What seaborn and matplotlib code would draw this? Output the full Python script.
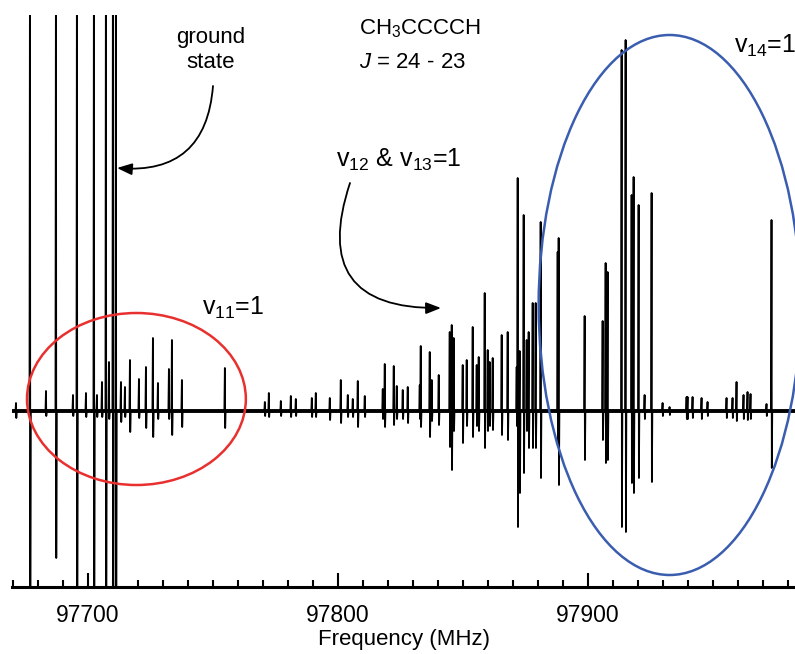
import numpy as np
import pandas as pd
import matplotlib
matplotlib.use("Agg")
import matplotlib.pyplot as plt
from matplotlib.patches import Ellipse
from matplotlib.ticker import MultipleLocator
import seaborn as sns

# ---------------- data ----------------
# line centre frequencies (MHz), upward intensity, downward intensity (arb. units)
ground_freq = [97676.8, 97687.2, 97695.6, 97702.4, 97707.2, 97710.0, 97711.2]
ground_up   = [500, 500, 500, 500, 500, 500, 500]
ground_down = [200, 147, 200, 200, 200, 200, 200]

v11_freq = [97671.2, 97683.2, 97694.0, 97699.2, 97703.6, 97705.6, 97708.4, 97713.2,
            97714.8, 97716.8, 97720.4, 97723.2, 97726.0, 97728.0, 97732.4, 97733.6,
            97737.6, 97754.8]
v11_up   = [8, 20, 16, 18, 16, 29, 49, 29, 24, 51, 32, 44, 73, 28, 42, 71, 31, 43]
v11_down = [7, 5, 5, 6, 6, 6, 8, 11, 6, 21, 7, 17, 26, 8, 8, 24, 16, 17]

v1213_freq = [97770.8, 97772.4, 97777.2, 97781.2, 97783.2, 97789.6, 97791.2, 97796.8,
              97801.2, 97804.0, 97806.0, 97808.0, 97810.8, 97818.0, 97818.8, 97822.4,
              97823.6, 97826.0, 97828.0, 97832.8, 97833.2, 97836.8, 97837.6, 97840.4,
              97844.8, 97845.6, 97846.4, 97850.0, 97851.6, 97854.0, 97855.6, 97856.4,
              97858.8, 97860.0, 97860.8, 97862.0, 97865.6, 97868.0, 97871.6, 97872.0,
              97872.8, 97874.4, 97875.6, 97876.4, 97878.0, 97879.2, 97881.2, 97888.0,
              97888.4]
v1213_up   = [9, 18, 10, 15, 12, 13, 18, 13, 31, 16, 12, 30, 15, 22, 47, 45, 25, 21,
              24, 26, 65, 59, 31, 36, 79, 86, 73, 46, 51, 84, 46, 54, 118, 61, 49, 53,
              76, 79, 44, 233, 60, 196, 71, 79, 108, 108, 189, 159, 173]
v1213_down = [5, 6, 5, 6, 5, 6, 6, 9, 12, 6, 6, 16, 6, 8, 16, 14, 8, 8, 12, 8, 16,
              26, 10, 14, 36, 59, 20, 32, 15, 26, 15, 20, 37, 20, 15, 19, 24, 29, 15,
              116, 82, 62, 20, 37, 37, 37, 67, 30, 74]

v14_freq = [97898.8, 97906.0, 97907.2, 97908.0, 97913.6, 97915.2, 97917.6, 97918.4,
            97920.4, 97922.8, 97925.6, 97930.0, 97932.8, 97939.6, 97940.0, 97942.0,
            97945.6, 97948.0, 97955.6, 97958.0, 97959.6, 97962.4, 97964.0, 97965.2,
            97971.6, 97973.6]
v14_up   = [95, 90, 148, 139, 361, 371, 216, 234, 206, 16, 218, 8, 4, 14, 14, 14,
            13, 9, 13, 13, 29, 16, 19, 17, 7, 191]
v14_down = [49, 29, 52, 49, 116, 121, 72, 82, 67, 8, 71, 5, 4, 8, 8, 7, 8, 5, 7, 7,
            10, 8, 9, 8, 5, 57]

x_min, x_max = 97669.6, 97983.0
xticks_major = [97700, 97800, 97900]

# ---------------- build the trace ----------------
freqs = ground_freq + v11_freq + v1213_freq + v14_freq
ups = ground_up + v11_up + v1213_up + v14_up
downs = ground_down + v11_down + v1213_down + v14_down
order = np.argsort(freqs)
xs, ys = [x_min], [0.0]
for i in order:
    f, u, d = freqs[i], ups[i], downs[i]
    xs += [f - 0.2, f, f + 0.12, f + 0.3]
    ys += [0.0, u, -d, 0.0]
xs.append(x_max)
ys.append(0.0)
trace = pd.DataFrame({"Frequency (MHz)": xs, "Intensity": ys})

# ---------------- figure ----------------
sns.set_style("white")
plt.rcParams["font.family"] = ["Liberation Sans", "DejaVu Sans"]
plt.rcParams["mathtext.fontset"] = "custom"
plt.rcParams["mathtext.rm"] = "Liberation Sans"
plt.rcParams["mathtext.it"] = "Liberation Sans:italic"
plt.rcParams["text.color"] = "black"
plt.rcParams["axes.labelcolor"] = "black"
plt.rcParams["xtick.color"] = "black"
plt.rcParams["xtick.labelcolor"] = "black"

fig = plt.figure(figsize=(7.95, 6.54), dpi=100)
ax = fig.add_axes([12 / 795, 67 / 654, 783 / 795, 572 / 654])

ax.axhline(0, color="black", lw=2.8, zorder=1)
sns.lineplot(data=trace, x="Frequency (MHz)", y="Intensity", estimator=None,
             sort=False, color="black", lw=1.3, ax=ax, zorder=2)

ax.set_xlim(x_min, x_max)
ax.set_ylim(-176, 396)

for s in ["left", "right", "top"]:
    ax.spines[s].set_visible(False)
ax.spines["bottom"].set_linewidth(2.2)
ax.spines["bottom"].set_color("black")
ax.set_yticks([])
ax.set_ylabel("")
ax.set_xticks(xticks_major)
ax.set_xticklabels([str(t) for t in xticks_major])
ax.xaxis.set_minor_locator(MultipleLocator(10))
ax.tick_params(axis="x", which="major", direction="in", length=10, width=1.5,
               labelsize=16.5, pad=12, bottom=True, color="black",
               labelcolor="black")
ax.tick_params(axis="x", which="minor", direction="in", length=5, width=1.5,
               bottom=True, color="black")
ax.set_xlabel("Frequency (MHz)", fontsize=16, labelpad=2, color="black")

# ellipses
ax.add_patch(Ellipse((97719.4, 12), 87.6, 172, fill=False, ec="#e8312f", lw=1.8,
                     zorder=3))
ax.add_patch(Ellipse((97932.8, 106), 104.8, 540, fill=False, ec="#3a5db0", lw=1.8,
                     zorder=3, clip_on=False))

# labels (pixel coordinates converted to figure fraction)
def fx(px):
    return px / 795

def fy(py):
    return 1 - py / 654

fig.text(fx(211), fy(37), "ground", ha="center", va="center", fontsize=16)
fig.text(fx(211), fy(63), "state", ha="center", va="center", fontsize=16)
fig.text(fx(420), fy(29), r"CH$_3$CCCCH", ha="center", va="center", fontsize=16)
fig.text(fx(412), fy(62), r"$J$ = 24 - 23", ha="center", va="center", fontsize=16)
fig.text(fx(202), fy(315), r"v$_{11}$=1", ha="left", va="baseline", fontsize=18)
fig.text(fx(336), fy(167), r"v$_{12}$ & v$_{13}$=1", ha="left", va="baseline",
         fontsize=18)
fig.text(fx(734), fy(53), r"v$_{14}$=1", ha="left", va="baseline", fontsize=18)

arrow_kw = dict(arrowstyle="-|>,head_length=0.9,head_width=0.35", color="black",
                lw=1.3, shrinkA=0, shrinkB=0)
ax.annotate("", xy=(fx(117), fy(168)), xycoords="figure fraction",
            xytext=(fx(213), fy(86)), textcoords="figure fraction",
            arrowprops=dict(connectionstyle="arc3,rad=-0.5", **arrow_kw))
ax.annotate("", xy=(fx(441), fy(308)), xycoords="figure fraction",
            xytext=(fx(350), fy(183)), textcoords="figure fraction",
            arrowprops=dict(connectionstyle="arc3,rad=0.7", **arrow_kw))

fig.savefig("out.png", dpi=100)
